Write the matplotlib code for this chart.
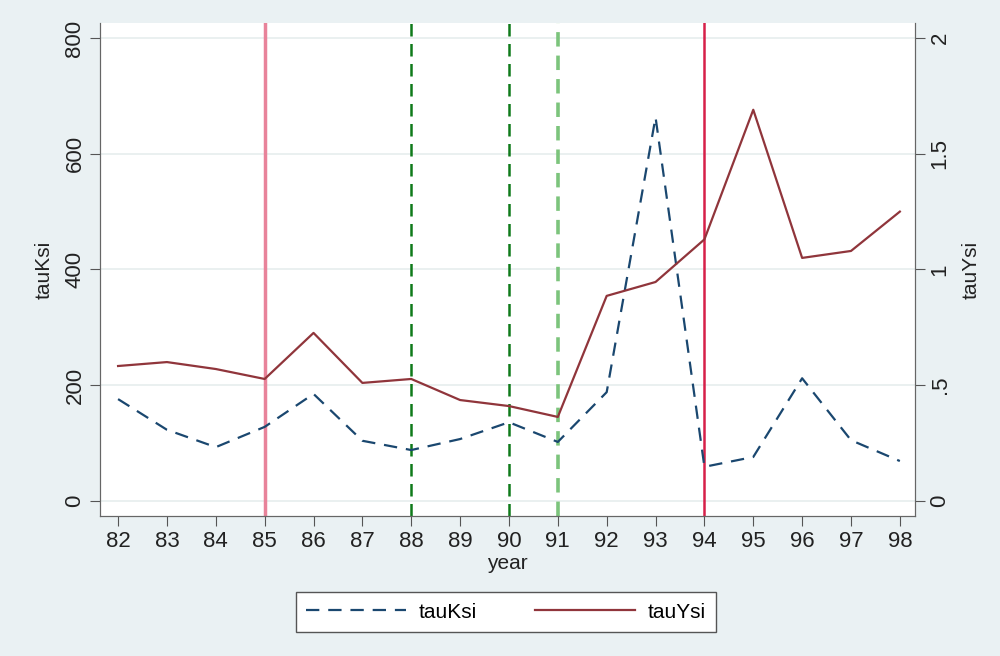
import matplotlib.pyplot as plt

years = [82, 83, 84, 85, 86, 87, 88, 89, 90, 91, 92, 93, 94, 95, 96, 97, 98]
tau_ksi = [176, 123, 93, 128, 185, 104, 88, 107, 136, 102, 188, 663, 59, 76, 212, 105, 69]
tau_ysi = [0.583, 0.60, 0.57, 0.527, 0.726, 0.51, 0.527, 0.436, 0.41, 0.363,
           0.886, 0.946, 1.13, 1.69, 1.05, 1.08, 1.25]
left_ticks = [0, 200, 400, 600, 800]
right_ticks = [0, 0.5, 1, 1.5, 2]
right_labels = ["0", ".5", "1", "1.5", "2"]

plt.rcParams['font.family'] = ['Liberation Sans', 'DejaVu Sans']
bg = "#eaf1f3"
navy = "#1a476f"
maroon = "#90353b"

fig = plt.figure(figsize=(10, 6.56), dpi=100, facecolor=bg)
ax = fig.add_axes([0.1, 0.2134, 0.815, 0.7516])
ax2 = ax.twinx()

for t in left_ticks:
    ax.axhline(t, color="#e6eeee", lw=1.2, zorder=0)

ax.axvline(85, color="#e8839a", lw=2.5, zorder=1)
ax.axvline(94, color="#d62049", lw=1.8, zorder=1)
ax.axvline(88, color="#0f7a1a", lw=1.8, ls=(0, (5, 3)), zorder=1)
ax.axvline(90, color="#0f7a1a", lw=1.8, ls=(0, (5, 3)), zorder=1)
ax.axvline(91, color="#7cc47c", lw=2.6, ls=(0, (4, 2.5)), zorder=1)

l1, = ax.plot(years, tau_ksi, color=navy, lw=1.6, ls=(0, (6, 4)), label="tauKsi")
l2, = ax2.plot(years, tau_ysi, color=maroon, lw=1.6, label="tauYsi")

ax.set_xlim(81.63, 98.31)
ax.set_ylim(-26, 826)
ax2.set_ylim(-0.065, 2.065)
ax.set_xticks(years)
ax.set_yticks(left_ticks)
ax2.set_yticks(right_ticks)
ax2.set_yticklabels(right_labels)

for a in (ax, ax2):
    a.tick_params(labelsize=16, color="#555555", length=7, labelcolor="#222222")
    a.tick_params(axis="y", labelrotation=90)
    for s in a.spines.values():
        s.set_color("#666666")
    a.spines["top"].set_visible(False)
for lab in ax.get_yticklabels() + ax2.get_yticklabels():
    lab.set_va("center")

ax.set_xlabel("year", fontsize=15, color="#222222", labelpad=2)
ax.set_ylabel("tauKsi", fontsize=15, color="#222222", labelpad=8)
ax2.set_ylabel("tauYsi", fontsize=15, color="#222222", labelpad=8)

leg = fig.legend([l1, l2], ["tauKsi", "tauYsi"], loc="center", bbox_to_anchor=(0.506, 0.067),
                 ncol=2, fontsize=15, frameon=True, fancybox=False, edgecolor="#555555",
                 framealpha=1, handlelength=4.8, handletextpad=0.6, columnspacing=2.8,
                 borderpad=0.5, borderaxespad=0)
leg.get_frame().set_facecolor("white")

fig.savefig("out.png", dpi=100, facecolor=bg)
